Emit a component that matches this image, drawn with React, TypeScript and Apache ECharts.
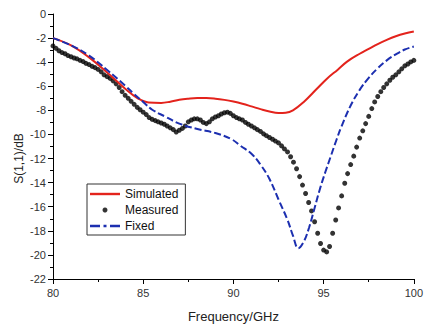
import React, { useEffect, useRef } from "react";
import * as echarts from "echarts";

// Frequency axis ticks (GHz) and S11 axis ticks (dB)
const xTicks = [80, 85, 90, 95, 100];
const yTicks = [0, -2, -4, -6, -8, -10, -12, -14, -16, -18, -20, -22];

// Simulated S(1,1) [GHz, dB]
const simulated: [number, number][] = [
  [80, -2.0], [81, -2.6], [82, -3.6], [83, -4.85], [84, -6.2], [84.7, -7.0],
  [85.3, -7.35], [86.0, -7.38], [86.5, -7.28], [87.0, -7.12], [87.5, -7.03],
  [88.0, -6.98], [88.5, -6.98], [89.0, -7.03], [89.5, -7.13], [90.0, -7.27],
  [90.5, -7.45], [91.0, -7.67], [91.5, -7.9], [92.0, -8.1], [92.5, -8.22],
  [92.9, -8.2], [93.3, -8.0], [93.9, -7.3], [94.6, -6.25], [95.2, -5.35],
  [95.8, -4.6], [96.3, -3.95], [97.0, -3.3], [97.5, -2.9], [98.0, -2.5],
  [98.5, -2.15], [99.0, -1.85], [99.5, -1.62], [100, -1.45],
];

// Fixed S(1,1) [GHz, dB]
const fixed: [number, number][] = [
  [80, -2.0], [81, -2.6], [82, -3.45], [83, -4.65], [84, -5.95], [84.5, -6.65],
  [85.0, -7.3], [85.5, -7.95], [86.2, -8.5], [87.0, -9.1], [88.0, -9.55],
  [89.0, -9.88], [89.9, -10.4], [90.4, -10.95], [91.0, -11.6], [91.5, -12.5],
  [92.0, -13.7], [92.5, -15.4], [93.0, -17.1], [93.3, -18.4], [93.6, -19.45],
  [93.9, -18.9], [94.2, -17.7], [94.5, -16.1], [94.8, -14.5], [95.1, -13.1],
  [95.4, -11.8], [95.7, -10.5], [96.0, -9.3], [96.5, -7.6], [97.0, -6.3],
  [97.5, -5.3], [98.0, -4.5], [98.5, -3.85], [99.0, -3.35], [99.5, -2.95],
  [100, -2.7],
];

// Measured S(1,1) [GHz, dB]
const measured: [number, number][] = [
  [80.0, -2.65], [80.17, -2.85], [80.33, -3.05], [80.5, -3.2], [80.67, -3.3],
  [80.83, -3.45], [81.0, -3.55], [81.17, -3.65], [81.33, -3.72], [81.5, -3.85],
  [81.67, -3.95], [81.83, -4.1], [82.0, -4.2], [82.17, -4.35], [82.33, -4.45],
  [82.5, -4.6], [82.67, -4.8], [82.83, -5.05], [83.0, -5.2], [83.17, -5.35],
  [83.33, -5.55], [83.5, -5.8], [83.67, -6.1], [83.83, -6.45], [84.0, -6.75],
  [84.17, -7.0], [84.33, -7.25], [84.5, -7.5], [84.67, -7.75], [84.83, -7.95],
  [85.0, -8.15], [85.17, -8.35], [85.33, -8.6], [85.5, -8.75], [85.67, -8.85],
  [85.83, -8.95], [86.0, -9.05], [86.17, -9.15], [86.33, -9.3], [86.5, -9.45],
  [86.67, -9.6], [86.83, -9.8], [87.0, -9.65], [87.17, -9.5], [87.33, -9.3],
  [87.5, -8.95], [87.67, -8.8], [87.83, -8.7], [88.0, -8.7], [88.17, -8.8],
  [88.33, -9.0], [88.5, -9.1], [88.67, -8.95], [88.83, -8.7], [89.0, -8.55],
  [89.17, -8.45], [89.33, -8.3], [89.5, -8.2], [89.67, -8.15], [89.83, -8.25],
  [90.0, -8.45], [90.17, -8.6], [90.33, -8.7], [90.5, -8.8], [90.67, -9.0],
  [90.83, -9.15], [91.0, -9.3], [91.17, -9.45], [91.33, -9.6], [91.5, -9.75],
  [91.67, -9.95], [91.83, -10.1], [92.0, -10.25], [92.17, -10.4], [92.33, -10.55],
  [92.5, -10.7], [92.67, -10.95], [92.83, -11.2], [93.0, -11.45], [93.17, -11.85],
  [93.33, -12.3], [93.5, -12.85], [93.67, -13.5], [93.83, -14.2], [94.0, -14.9],
  [94.17, -15.65], [94.33, -16.35], [94.5, -17.25], [94.67, -18.2], [94.83, -19.05],
  [95.0, -19.6], [95.17, -19.75], [95.33, -19.3], [95.5, -18.2], [95.67, -17.1],
  [95.83, -16.1], [96.0, -15.1], [96.17, -14.05], [96.33, -13.25], [96.5, -12.5],
  [96.67, -11.8], [96.83, -11.05], [97.0, -10.3], [97.17, -9.7], [97.33, -9.1],
  [97.5, -8.5], [97.67, -7.85], [97.83, -7.3], [98.0, -6.85], [98.17, -6.45],
  [98.33, -6.1], [98.5, -5.8], [98.67, -5.5], [98.83, -5.25], [99.0, -5.05],
  [99.17, -4.8], [99.33, -4.55], [99.5, -4.3], [99.67, -4.15], [99.83, -3.98],
  [100.0, -3.85],
];

const FONT = "Arial, 'Liberation Sans', sans-serif";
const RED = "#e3231c";
const BLUE = "#1c2fb0";

// legend glyphs
const ICON_SOLID = "path://M0,0H30V2.4H0Z";
const ICON_DASHDOT = "path://M0,0H10V2.4H0Z M13.5,0H16.5V2.4H13.5Z M20,0H30V2.4H20Z";

export default function App() {
  const ref = useRef<HTMLDivElement>(null);
  useEffect(() => {
    if (!ref.current) return;
    const chart = echarts.init(ref.current, undefined, { renderer: "svg" });
    const xMin = xTicks[0];
    const xMax = xTicks[xTicks.length - 1];
    const yMax = yTicks[0];
    const yMin = yTicks[yTicks.length - 1];
    chart.setOption({
      animation: false,
      backgroundColor: "#ffffff",
      grid: { left: 53, right: 8, top: 14, bottom: 41 },
      legend: {
        orient: "vertical",
        left: 87,
        top: 184,
        itemWidth: 30,
        itemHeight: 5,
        itemGap: 4,
        padding: [4, 7, 3, 3],
        borderColor: "#333",
        borderWidth: 1,
        borderRadius: 0,
        textStyle: { fontSize: 12, color: "#111", fontFamily: FONT },
        data: [
          { name: "Simulated", icon: ICON_SOLID, itemStyle: { color: RED } },
          { name: "Measured", icon: "circle", itemStyle: { color: "#000" } },
          { name: "Fixed", icon: ICON_DASHDOT, itemStyle: { color: BLUE } },
        ],
      },
      xAxis: {
        type: "value",
        min: xMin,
        max: xMax,
        interval: 5,
        name: "Frequency/GHz",
        nameLocation: "middle",
        nameGap: 31,
        nameMoveOverlap: false,
        nameTextStyle: { fontSize: 13, color: "#222", fontFamily: FONT },
        axisLine: { show: true, onZero: false, lineStyle: { color: "#000", width: 1 } },
        axisTick: { show: true, inside: false, length: 5, lineStyle: { color: "#000" } },
        minorTick: { show: true, splitNumber: 2, length: 3, lineStyle: { color: "#000" } },
        axisLabel: { fontSize: 11, color: "#333", margin: 8, fontFamily: FONT },
        splitLine: { show: false },
      },
      yAxis: {
        type: "value",
        min: yMin,
        max: yMax,
        interval: 2,
        name: "S(1,1)/dB",
        nameLocation: "middle",
        nameGap: 28,
        nameMoveOverlap: false,
        nameTextStyle: { fontSize: 12, color: "#222", fontFamily: FONT, padding: [0, 24, 0, 0] },
        axisLine: { show: true, onZero: false, lineStyle: { color: "#000", width: 1 } },
        axisTick: { show: true, inside: false, length: 5, lineStyle: { color: "#000" } },
        minorTick: { show: true, splitNumber: 2, length: 3, lineStyle: { color: "#000" } },
        axisLabel: { fontSize: 11, color: "#333", margin: 7, fontFamily: FONT },
        splitLine: { show: false },
      },
      series: [
        {
          name: "Simulated",
          type: "line",
          data: simulated,
          smooth: 0.4,
          symbol: "none",
          z: 3,
          lineStyle: { color: RED, width: 2 },
          itemStyle: { color: RED },
        },
        {
          name: "Measured",
          type: "scatter",
          data: measured,
          symbol: "circle",
          symbolSize: 5,
          z: 2,
          itemStyle: { color: "#000" },
        },
        {
          name: "Fixed",
          type: "line",
          data: fixed,
          smooth: 0.4,
          symbol: "none",
          z: 4,
          lineStyle: { color: BLUE, width: 2, type: [7, 3] },
          itemStyle: { color: BLUE },
        },
      ],
    });
    return () => chart.dispose();
  }, []);
  return (
    <div
      ref={ref}
      style={{ width: 426, height: 328, position: "absolute", left: 0, top: 0, background: "#fff" }}
    />
  );
}
